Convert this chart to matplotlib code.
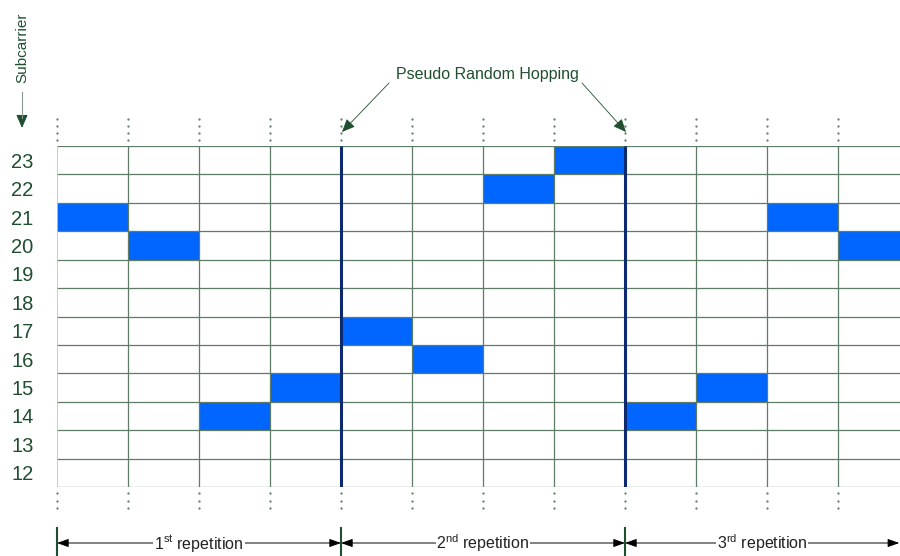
import matplotlib.pyplot as plt
import matplotlib.transforms as mtransforms
import numpy as np

plt.rcParams['font.family'] = ['Liberation Sans', 'DejaVu Sans']
plt.rcParams['mathtext.fontset'] = 'custom'
plt.rcParams['mathtext.rm'] = 'Liberation Sans'

# subcarrier rows and the hopped subcarrier in each time slot
subcarriers = list(range(12, 24))
slots = list(range(12))
hop_rows = [21, 20, 14, 15, 17, 16, 22, 23, 14, 15, 21, 20]
rep_bounds = [0, 4, 8]
rep_labels = [r'1$^{\mathrm{st}}$ repetition', r'2$^{\mathrm{nd}}$ repetition', r'3$^{\mathrm{rd}}$ repetition']

W, H = 900, 556
green = '#1f4f2e'
gridc = '#5f7d66'
blue = '#0066ff'
navy = '#0d2a6e'

fig = plt.figure(figsize=(W / 100, H / 100), dpi=100)

def fx(px):
    return px / W

def fy(py):
    return 1 - py / H

left, right, top, bottom = 57, 900, 146, 487
ax = fig.add_axes([fx(left), fy(bottom), fx(right - left), (bottom - top) / H])
ncol = (right - left) / 71.0
ax.set_xlim(0, ncol)
ax.set_ylim(11.5, 23.5)
for s in ax.spines.values():
    s.set_visible(False)

# blue cells
ax.barh(hop_rows, 1, left=slots, height=1, align='center', color=blue, zorder=1)

# grid
ax.hlines(np.arange(11.5, 24.0, 1), 0, ncol, color=gridc, lw=0.9, zorder=2)
ax.vlines(range(1, 12), 11.5, 23.5, color=gridc, lw=0.9, zorder=2)
ax.vlines([0], 11.5, 23.5, color='#b8c8bc', lw=1.2, zorder=2)
ax.vlines(rep_bounds[1:], 11.5, 23.5, color=navy, lw=2.2, zorder=3)

ax.set_xticks([])
ax.set_yticks(subcarriers)
ax.set_yticklabels([str(s) for s in subcarriers], fontsize=14.5, color=green)
ax.tick_params(axis='y', length=0, pad=17)

# dotted continuation marks above and below grid
bt = mtransforms.blended_transform_factory(ax.transData, fig.transFigure)
for c in range(0, 12):
    ax.plot([c] * 4, [fy(p) for p in (119, 126, 133, 140)], ls='none', marker='.',
            ms=1.2, color='#5a7462', transform=bt, clip_on=False)
    ax.plot([c] * 3, [fy(p) for p in (493, 501, 508)], ls='none', marker='.',
            ms=1.2, color='#5a7462', transform=bt, clip_on=False)

# repetition brackets
for b in rep_bounds:
    ax.plot([b, b], [fy(528), fy(556)], color=green, lw=1.5, transform=bt, clip_on=False)
ends = rep_bounds[1:] + [ncol - 0.01]
for b, e, lab in zip(rep_bounds, ends, rep_labels):
    ax.annotate('', xy=(e, fy(543)), xytext=(b, fy(543)), xycoords=bt, textcoords=bt,
                arrowprops=dict(arrowstyle='<|-|>,head_length=0.7,head_width=0.25',
                                color='black', lw=0.7, shrinkA=0, shrinkB=0))
    ax.text((b + e) / 2, fy(543), lab, transform=bt, ha='center', va='center',
            fontsize=11.5, color='#222222',
            bbox=dict(boxstyle='square,pad=0.05', fc='white', ec='none'))

# y axis caption
fig.text(fx(22), fy(48), 'Subcarrier', rotation=90, ha='center', va='center',
         fontsize=11, color=green)
fig.add_artist(plt.Line2D([fx(22), fx(22)], [fy(92), fy(118)], color='#8a9a8e', lw=0.8))
ax.annotate('', xy=(fx(22), fy(128)), xytext=(fx(22), fy(116)), xycoords='figure fraction',
            arrowprops=dict(arrowstyle='-|>,head_length=0.8,head_width=0.35',
                            color=green, lw=0.8, shrinkA=0, shrinkB=0))

# hopping annotation
fig.text(fx(487), fy(74), 'Pseudo Random Hopping', ha='center', va='center',
         fontsize=11.5, color=green)
for (x0, y0), (x1, y1) in [((389, 83), (342, 132)), ((582, 83), (626, 132))]:
    ax.annotate('', xy=(fx(x1), fy(y1)), xytext=(fx(x0), fy(y0)), xycoords='figure fraction',
                arrowprops=dict(arrowstyle='-|>,head_length=0.8,head_width=0.35',
                                color=green, lw=0.6, shrinkA=0, shrinkB=0))

plt.savefig('out.png', dpi=100)
